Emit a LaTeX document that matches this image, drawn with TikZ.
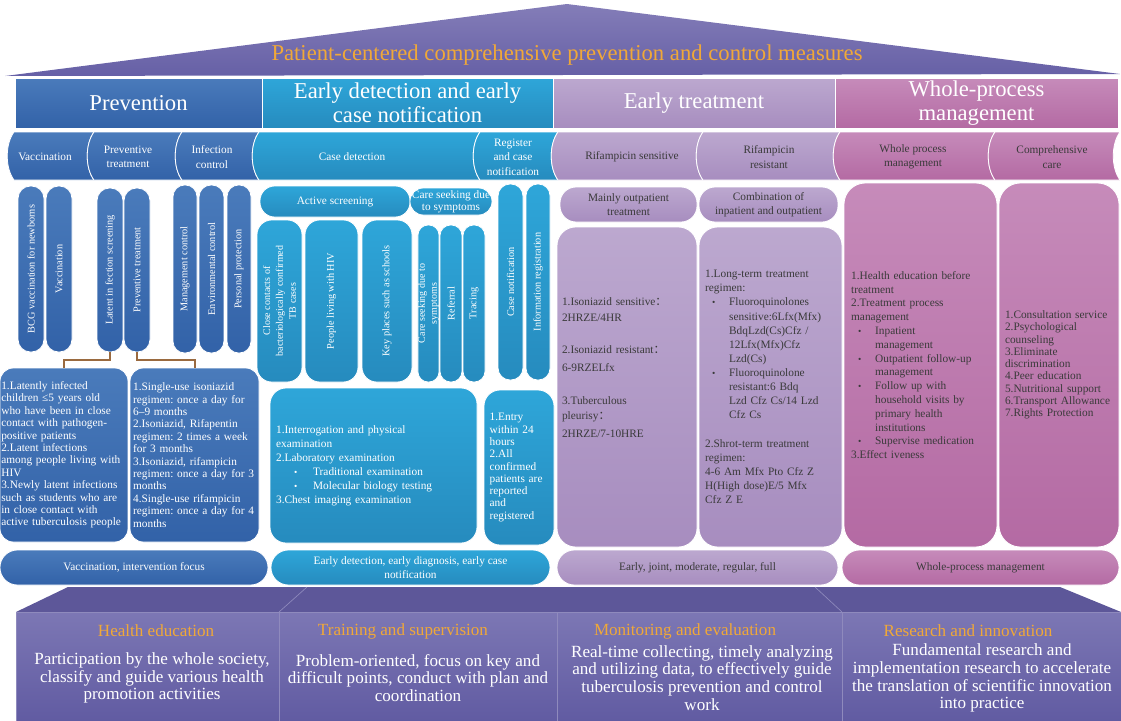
\documentclass[tikz,border=0pt]{standalone}
\usepackage{fontspec}
\setmainfont{Liberation Serif}
\newfontfamily\cjk{Noto Sans CJK SC}
\frenchspacing

\definecolor{prevtop}{HTML}{4A7BBB}
\definecolor{prevbot}{HTML}{3262A8}
\definecolor{dettop}{HTML}{2EA6D9}
\definecolor{detbot}{HTML}{268BBE}
\definecolor{trttop}{HTML}{BCA8CF}
\definecolor{trtbot}{HTML}{A78DBF}
\definecolor{mgttop}{HTML}{C68BBA}
\definecolor{mgtbot}{HTML}{B46AA3}
\definecolor{txtdark}{HTML}{3A3A3A}
\definecolor{rooftop}{HTML}{847DB8}
\definecolor{roofbot}{HTML}{6660A6}
\definecolor{titleorange}{HTML}{F0A838}
\definecolor{basetop}{HTML}{5D5799}
\definecolor{fronttop}{HTML}{7C77B4}
\definecolor{frontbot}{HTML}{615BA2}
\definecolor{frontline}{HTML}{8F8ABD}
\definecolor{connbrown}{HTML}{9A6A3F}

% box from (x1,y1) to (x2,y2), in pixels
\newcommand{\hbx}[7]{\node[#2,minimum width={(#5-#3)*0.75pt},minimum height={(#6-#4)*0.75pt}] (#1) at ({(#3+#5)/2},{(#4+#6)/2}) {#7};}
\newcommand{\vbx}[7]{\node[#2,rotate=90,minimum width={(#6-#4)*0.75pt},minimum height={(#5-#3)*0.75pt},rounded corners={min((#5-#3)*0.36,11)*1pt}] (#1) at ({(#3+#5)/2},{(#4+#6)/2}) {#7};}
\newcommand{\seg}[7]{\path[#2] (#3,132) -- (#4,132) .. controls (#4-9,144) and (#4-9,168) .. (#4,180) -- (#3,180) .. controls (#3-9,168) and (#3-9,144) .. (#3,132) -- cycle;
  \node[#6] (#1) at (#5,157) {#7};}
\newcommand{\bl}[2]{\makebox[#2][l]{\hspace*{#1}{\scriptsize\textbullet}}}

\begin{document}
\begin{tikzpicture}[x=0.75pt,y=-0.75pt,
  prev/.style={top color=prevtop,bottom color=prevbot,draw=white,line width=.6pt,text=white},
  det/.style={top color=dettop,bottom color=detbot,draw=white,line width=.6pt,text=white},
  trt/.style={top color=trttop,bottom color=trtbot,draw=white,line width=.6pt,text=txtdark},
  mgt/.style={top color=mgttop,bottom color=mgtbot,draw=white,line width=.6pt,text=txtdark},
  headtxt/.style={inner sep=0pt,align=center,text=white,font=\fontsize{17}{18}\selectfont},
  subtxt/.style={inner sep=0pt,align=center,font=\fontsize{8.5}{10.8}\selectfont},
  vtxt/.style={inner sep=0pt,align=center,font=\fontsize{7.7}{9.4}\selectfont},
  bodytxt/.style={inner sep=0pt,align=left,font=\fontsize{8.5}{9.3}\selectfont},
  pilltxt/.style={inner sep=0pt,align=center,font=\fontsize{8.5}{10.8}\selectfont},
  front/.style={top color=fronttop,bottom color=frontbot,draw=frontline,line width=.5pt},
  fronthead/.style={inner sep=0pt,text=titleorange,font=\fontsize{12.8}{13.4}\selectfont},
  frontbody/.style={inner sep=0pt,align=center,text=white,font=\fontsize{12.8}{13.4}\selectfont},
  conn/.style={draw=connbrown,line width=1.5pt}]
\useasboundingbox (0,0) rectangle (1121,721);

\path[top color=rooftop,bottom color=roofbot] (5,76) -- (567,4) -- (1120,74) -- cycle;
\node[headtxt,text=titleorange] (title) at (567,55) {Patient-centered comprehensive prevention and control measures};

\hbx{hPrev}{prev,headtxt}{15}{78}{262}{128}{Prevention}
\hbx{hDet}{det,headtxt}{262}{78}{553}{128}{Early detection and early\\case notification}
\hbx{hTrt}{trt,headtxt}{553}{78}{835}{128}{Early treatment}
\hbx{hMgt}{mgt,headtxt}{835}{78}{1118}{128}{Whole-process\\management}

\seg{sVac}{prev}{14}{94}{45}{subtxt,text=white}{Vaccination}
\seg{sPre}{prev}{94}{182}{128}{subtxt,text=white}{Preventive\\treatment}
\seg{sInf}{prev}{182}{259}{212}{subtxt,text=white}{Infection\\control}
\seg{sCase}{det}{259}{480}{352}{subtxt,text=white}{Case detection}
\seg{sReg}{det}{480}{558}{513}{subtxt,text=white}{Register\\and case\\notification}
\seg{sSens}{trt}{558}{703}{632}{subtxt,text=txtdark}{Rifampicin sensitive}
\seg{sRes}{trt}{703}{840}{769}{subtxt,text=txtdark}{Rifampicin\\resistant}
\seg{sWhole}{mgt}{840}{995}{913}{subtxt,text=txtdark}{Whole process\\management}
\seg{sComp}{mgt}{995}{1120}{1052}{subtxt,text=txtdark}{Comprehensive\\care}

\begin{scope}
\vbx{pBCG}{prev,vtxt}{18}{186}{44}{352}{BCG vaccination for newborns}
\vbx{pVac}{prev,vtxt}{46}{186}{72}{352}{Vaccination}
\vbx{pLat}{prev,vtxt}{97}{188}{123}{352}{Latent in fection screening}
\vbx{pPre}{prev,vtxt}{124}{188}{150}{352}{Preventive treatment}
\vbx{pMan}{prev,vtxt}{173}{185}{197}{353}{Management control}
\vbx{pEnv}{prev,vtxt}{199}{185}{224}{353}{Environmental control}
\vbx{pPer}{prev,vtxt}{227}{185}{251}{353}{Personal protection}
\hbx{tLat}{prev,bodytxt,rounded corners=10pt,text width=94pt}{0}{368}{128}{542}{1.Latently infected\\children ≤5 years old\\who have been in close\\contact with pathogen-\\positive patients\\2.Latent infections\\among people living with\\HIV\\3.Newly latent infections\\such as students who are\\in close contact with\\active tuberculosis people}
\hbx{tPre}{prev,bodytxt,rounded corners=10pt,text width=92pt}{130}{368}{259}{542}{1.Single-use isoniazid\\regimen: once a day for\\6--9 months\\2.Isoniazid, Rifapentin\\regimen: 2 times a week\\for 3 months\\3.Isoniazid, rifampicin\\regimen: once a day for 3\\months\\4.Single-use rifampicin\\regimen: once a day for 4\\months}
\draw[conn] (pLat.west) -- ++(0,8) -| (tLat.north);
\draw[conn] (pPre.west) -- ++(0,8) -| (tPre.north);
\end{scope}

\begin{scope}
\hbx{dAct}{det,pilltxt,rounded corners=11pt}{260}{186}{410}{217}{Active screening}
\hbx{dCare}{det,pilltxt,rounded corners=10pt,font=\fontsize{8.5}{9}\selectfont}{410}{188}{492}{215}{Care seeking due\\to symptoms}
\vbx{dClose}{det,vtxt,font=\fontsize{7.5}{9.6}\selectfont}{257}{220}{302}{382}{Close contacts of\\bacteriologically confirmed\\TB cases}
\vbx{dHIV}{det,vtxt}{305}{220}{358}{382}{People living with HIV}
\vbx{dKey}{det,vtxt}{362}{220}{412}{382}{Key places such as schools}
\vbx{dSym}{det,vtxt,font=\fontsize{7.5}{9}\selectfont}{418}{225}{439}{382}{Care seeking due to\\symptoms}
\vbx{dRef}{det,vtxt}{440}{225}{462}{382}{Referral}
\vbx{dTra}{det,vtxt}{463}{225}{485}{382}{Tracing}
\vbx{dNot}{det,vtxt}{498}{184}{523}{380}{Case notification}
\vbx{dReg}{det,vtxt}{526}{184}{550}{380}{Information registration}
\hbx{dExam}{det,bodytxt,rounded corners=12pt,text width=146pt,font=\fontsize{8.5}{10.5}\selectfont}{270}{388}{477}{543}{1.Interrogation and physical\\examination\\2.Laboratory examination\\\bl{13.5pt}{27.75pt}Traditional examination\\\bl{13.5pt}{27.75pt}Molecular biology testing\\3.Chest imaging examination}
\hbx{dEntry}{det,bodytxt,rounded corners=12pt,text width=44pt,font=\fontsize{8.5}{9.2}\selectfont}{484}{390}{554}{545}{1.Entry\\within 24\\hours\\2.All\\confirmed\\patients are\\reported\\and\\registered}
\end{scope}

\begin{scope}
\hbx{tOut}{trt,pilltxt,rounded corners=12pt}{560}{187}{697}{222}{Mainly outpatient\\treatment}
\hbx{tComb}{trt,pilltxt,rounded corners=12pt}{699}{187}{838}{222}{Combination of\\inpatient and outpatient}
\hbx{tSens}{trt,bodytxt,rounded corners=14pt,text width=97.5pt,font=\fontsize{8.5}{11.5}\selectfont}{557}{227}{697}{547}{1.Isoniazid sensitive{\cjk ：}\\2HRZE/4HR\\[13pt]2.Isoniazid resistant{\cjk ：}\\[2pt]6-9RZELfx\\[13pt]3.Tuberculous\\pleurisy{\cjk ：}\\[2pt]2HRZE/7-10HRE\\[17pt]\mbox{}}
\hbx{tRes}{trt,bodytxt,rounded corners=14pt,text width=98pt,font=\fontsize{8.5}{10.6}\selectfont}{699}{227}{842}{547}{1.Long-term treatment\\regimen:\\\bl{5.25pt}{18pt}Fluoroquinolones\\\hspace*{18pt}sensitive:6Lfx(Mfx)\\\hspace*{18pt}BdqLzd(Cs)Cfz /\\\hspace*{18pt}12Lfx(Mfx)Cfz\\\hspace*{18pt}Lzd(Cs)\\\bl{5.25pt}{18pt}Fluoroquinolone\\\hspace*{18pt}resistant:6 Bdq\\\hspace*{18pt}Lzd Cfz Cs/14 Lzd\\\hspace*{18pt}Cfz Cs\\[10.6pt]2.Shrot-term treatment\\regimen:\\4-6 Am Mfx Pto Cfz Z\\H(High dose)E/5 Mfx\\Cfz Z E}
\end{scope}

\begin{scope}
\hbx{mProc}{mgt,bodytxt,rounded corners=16pt,text width=104pt,font=\fontsize{8.5}{10.35}\selectfont}{844}{183}{997}{547}{1.Health education before\\treatment\\2.Treatment process\\management\\\bl{5.25pt}{18pt}Inpatient\\\hspace*{18pt}management\\\bl{5.25pt}{18pt}Outpatient follow-up\\\hspace*{18pt}management\\\bl{5.25pt}{18pt}Follow up with\\\hspace*{18pt}household visits by\\\hspace*{18pt}primary health\\\hspace*{18pt}institutions\\\bl{5.25pt}{18pt}Supervise medication\\3.Effect iveness}
\hbx{mCare}{mgt,bodytxt,rounded corners=16pt,text width=81pt,font=\fontsize{8.5}{9.2}\selectfont}{999}{183}{1119}{547}{1.Consultation service\\2.Psychological\\counseling\\3.Eliminate\\discrimination\\4.Peer education\\5.Nutritional support\\6.Transport Allowance\\7.Rights Protection}
\end{scope}

\hbx{fVac}{prev,pilltxt,rounded corners=13pt}{0}{550}{268}{585}{Vaccination, intervention focus}
\hbx{fDet}{det,pilltxt,rounded corners=13pt}{271}{550}{550}{585}{Early detection, early diagnosis, early case\\notification}
\hbx{fTrt}{trt,pilltxt,rounded corners=13pt}{557}{550}{838}{585}{Early, joint, moderate, regular, full}
\hbx{fMgt}{mgt,pilltxt,rounded corners=13pt}{842}{550}{1119}{585}{Whole-process management}

\path[fill=basetop] (68,587) -- (1060,587) -- (1121,612) -- (16,612) -- cycle;
\draw[frontline,line width=.5pt] (307,587) -- (279,612) (815,587) -- (842,612);
\hbx{bHealth}{front}{16}{612}{279}{721}{}
\hbx{bTrain}{front}{279}{612}{557}{721}{}
\hbx{bMon}{front}{557}{612}{842}{721}{}
\hbx{bRes}{front}{842}{612}{1121}{721}{}
\node[fronthead] (hHealth) at (156,631) {Health education};
\node[frontbody] (xHealth) at (152,678) {Participation by the whole society,\\classify and guide various health\\promotion activities};
\node[fronthead] (hTrain) at (403,631) {Training and supervision};
\node[frontbody] (xTrain) at (418,678) {Problem-oriented, focus on key and\\difficult points, conduct with plan and\\coordination};
\node[fronthead] (hMon) at (685,631) {Monitoring and evaluation};
\node[frontbody] (xMon) at (702,678) {Real-time collecting, timely analyzing\\and utilizing data, to effectively guide\\tuberculosis prevention and control\\work};
\node[fronthead] (hRes) at (968,631) {Research and innovation};
\node[frontbody] (xRes) at (982,678) {Fundamental research and\\implementation research to accelerate\\the translation of scientific innovation\\into practice};
\end{tikzpicture}
\end{document}
